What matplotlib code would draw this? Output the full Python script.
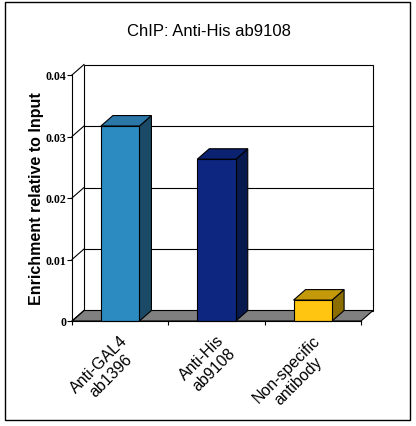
import matplotlib
matplotlib.use('Agg')
import matplotlib.pyplot as plt
from matplotlib.patches import Polygon, Rectangle
import matplotlib.transforms as mtransforms
import numpy as np

plt.rcParams['font.family'] = ['Liberation Sans', 'DejaVu Sans']

# ---- data ----
categories = ['Anti-GAL4\nab1396', 'Anti-His\nab9108', 'Non-specific\nantibody']
values = [0.0317, 0.0263, 0.0034]
yticks = [0, 0.01, 0.02, 0.03, 0.04]
ytick_labels = ['0', '0.01', '0.02', '0.03', '0.04']
front_colors = ['#2C8BC0', '#0D2680', '#FFC510']
side_colors = ['#1B4A66', '#081A4D', '#8C6E00']
top_colors = ['#2A77A8', '#0B2270', '#C49A0A']
title = 'ChIP: Anti-His ab9108'
ylabel = 'Enrichment relative to Input'

W, H = 416, 427
fig = plt.figure(figsize=(W / 100, H / 100), dpi=100)
ax = fig.add_axes([72 / W, 1 - 322 / H, 289 / W, 246 / H])
ax.set_xlim(0, len(categories))
ax.set_ylim(0, 0.04)

# depth offset (pixels) converted into data units
p0 = ax.transData.transform((0, 0))
p1 = ax.transData.inverted().transform(p0 + np.array([12, 10.5]))
DX, DY = p1[0], p1[1]

LW = 0.8
n = len(categories)
ymax = yticks[-1]

# back wall
ax.add_patch(Polygon([(DX, DY), (n + DX, DY), (n + DX, ymax + DY), (DX, ymax + DY)],
                     closed=True, facecolor='white', edgecolor='black', lw=LW,
                     clip_on=False, zorder=1))
for v in yticks[1:-1]:
    ax.plot([DX, n + DX], [v + DY, v + DY], color='black', lw=LW, clip_on=False, zorder=1.5)

# floor
ax.add_patch(Polygon([(0, 0), (n, 0), (n + DX, DY), (DX, DY)], closed=True,
                     facecolor='#808080', edgecolor='black', lw=LW, clip_on=False, zorder=2))

# diagonals at ticks
for v in yticks:
    ax.plot([0, DX], [v, v + DY], color='black', lw=LW, clip_on=False, zorder=2.5)

# bars
bw = 0.4
for i, (v, fc, sc, tc) in enumerate(zip(values, front_colors, side_colors, top_colors)):
    c = i + 0.5
    x0, x1 = c - bw / 2, c + bw / 2
    ax.add_patch(Polygon([(x1, 0), (x1 + DX, DY), (x1 + DX, v + DY), (x1, v)], closed=True,
                         facecolor=sc, edgecolor='black', lw=LW, clip_on=False, zorder=4))
    ax.add_patch(Polygon([(x0, v), (x1, v), (x1 + DX, v + DY), (x0 + DX, v + DY)], closed=True,
                         facecolor=tc, edgecolor='black', lw=LW, clip_on=False, zorder=4))
    ax.bar(c, v, width=bw, color=fc, edgecolor='black', lw=LW, zorder=5, clip_on=False)

# axes styling
ax.set_facecolor('none')
for s in ['top', 'right']:
    ax.spines[s].set_visible(False)
for s in ['left', 'bottom']:
    ax.spines[s].set_linewidth(LW)
    ax.spines[s].set_zorder(6)
ax.set_yticks(yticks)
ax.set_yticklabels(ytick_labels, fontfamily=['Liberation Serif', 'DejaVu Serif'],
                   fontweight='bold', fontsize=8.5)
ax.tick_params(axis='y', direction='out', length=3.6, width=LW, pad=0.5)
ax.set_xticks(range(n + 1))
ax.set_xticklabels([])
ax.tick_params(axis='x', direction='out', length=3.2, width=LW)

off = mtransforms.ScaledTranslation(0 / 100, -11 / 100, fig.dpi_scale_trans)
for i, lab in enumerate(categories):
    ax.text(i + 0.5, 0, lab, rotation=45, ha='right', va='top', rotation_mode='anchor',
            multialignment='center', fontsize=11.5, transform=ax.transData + off,
            linespacing=1.15)

fig.text(209 / W, 1 - 32 / H, title, ha='center', va='center', fontsize=12)
fig.text(37 / W, 1 - 199 / H, ylabel, ha='center', va='center', rotation=90,
         fontsize=11.5, fontweight='bold')

fig.patches.append(Rectangle((5 / W, 1 - 421 / H), 405 / W, 418 / H, transform=fig.transFigure,
                             fill=False, edgecolor='black', lw=1.0))

fig.savefig('out.png', dpi=100)
